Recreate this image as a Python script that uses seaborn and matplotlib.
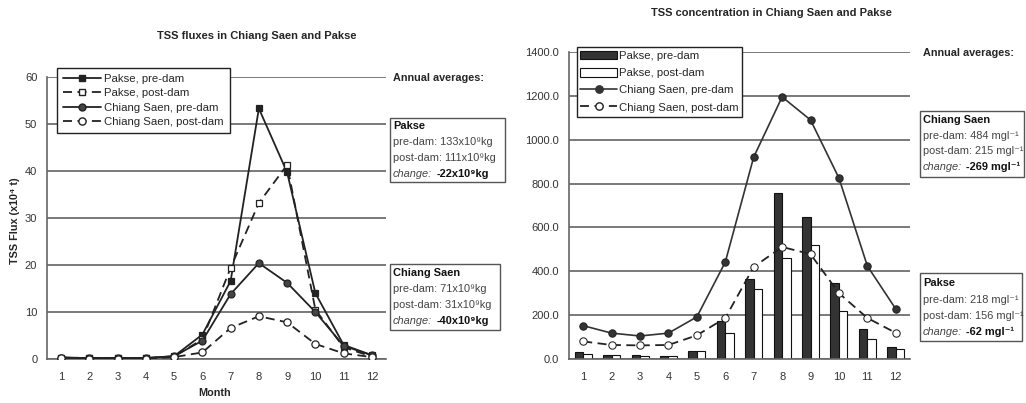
import matplotlib
matplotlib.use("Agg")
from matplotlib import pyplot as plt
from matplotlib.lines import Line2D
from matplotlib.patches import Patch, Rectangle
import pandas as pd
import seaborn as sns

MONTHS = list(range(1, 13))

# TSS flux (x10^4 t)
PAKSE_PRE_FLUX = [0.3, 0.2, 0.2, 0.2, 0.6, 5.2, 16.6, 53.3, 39.7, 14.0, 3.0, 0.8]
PAKSE_POST_FLUX = [0.3, 0.2, 0.2, 0.2, 0.5, 4.2, 19.4, 33.2, 41.3, 10.5, 2.5, 0.5]
CS_PRE_FLUX = [0.3, 0.2, 0.2, 0.2, 0.6, 3.9, 13.8, 20.4, 16.2, 10.0, 2.8, 0.8]
CS_POST_FLUX = [0.2, 0.1, 0.1, 0.1, 0.4, 1.4, 6.6, 9.1, 7.8, 3.2, 1.2, 0.4]

# TSS concentration (mg/l)
PAKSE_PRE_CONC = [32, 20, 18, 15, 38, 173, 365, 757, 648, 346, 137, 55]
PAKSE_POST_CONC = [22, 16, 12, 14, 36, 118, 319, 460, 520, 219, 91, 46]
CS_PRE_CONC = [152, 118, 105, 118, 192, 442, 921, 1195, 1090, 825, 424, 228]
CS_POST_CONC = [80, 64, 62, 64, 108, 187, 420, 511, 478, 300, 187, 119]

FLUX_LABELS = ["Pakse, pre-dam", "Pakse, post-dam",
               "Chiang Saen, pre-dam", "Chiang Saen, post-dam"]

W, H = 1026, 403
INK = "#222222"
DASH = (0, (5, 3))
BOX_FS = 7.95


def px(x, y):
    """pixel position -> figure fraction"""
    return x / W, 1 - y / H


def info_box(fig, x0, y0, x1, y1, title, lines, change, rows):
    """framed text box with the annual averages"""
    l, t = px(x0, y0)
    r, b = px(x1, y1)
    fig.add_artist(Rectangle((l, b), r - l, t - b, transform=fig.transFigure,
                             facecolor="white", edgecolor="#555555", lw=1.0))
    tx = x0 + 3
    fig.text(*px(tx, rows[0]), title, fontsize=BOX_FS, fontweight="bold",
             va="center", color="#111111")
    for txt, y in zip(lines, rows[1:3]):
        fig.text(*px(tx, y), txt, fontsize=BOX_FS, va="center",
                 color="#444444")
    t_ch = fig.text(*px(tx, rows[3]), "change:", fontsize=BOX_FS,
                    style="italic", va="center", color="#444444")
    fig.add_artist(plt.Annotation(change, xy=(1, 0.5), xycoords=t_ch,
                                  xytext=(3, 0), textcoords="offset points",
                                  va="center", ha="left", fontsize=BOX_FS,
                                  fontweight="bold", color="#111111"))


def style_axes(ax, ymax, ystep, fmt, tick_dir):
    ax.set_xlim(0.5, 12.5)
    ax.set_ylim(0, ymax)
    ax.set_yticks(range(0, ymax + 1, ystep))
    ax.set_yticklabels([fmt.format(v) for v in range(0, ymax + 1, ystep)])
    ax.set_xticks(MONTHS)
    ax.set_xticks([m + 0.5 for m in range(0, 13)], minor=True)
    ax.tick_params(axis="x", which="major", length=0, pad=9, labelsize=8,
                   labelcolor="#333333")
    ax.tick_params(axis="x", which="minor", length=5, direction=tick_dir,
                   color="#555555", width=1.0)
    ax.tick_params(axis="y", length=4, direction="out", color="#555555",
                   width=1.0, labelsize=8, labelcolor="#333333", pad=3)
    ax.yaxis.grid(True, color="#555555", lw=1.1)
    ax.set_axisbelow(True)
    sns.despine(ax=ax)
    for sp in ("left", "bottom"):
        ax.spines[sp].set_color("#666666")
        ax.spines[sp].set_linewidth(1.2)
    ax.set_xlabel("")
    ax.set_ylabel("")


sns.set_style("white")
plt.rcParams["font.family"] = ["Liberation Sans", "DejaVu Sans"]

fig = plt.figure(figsize=(W / 100, H / 100), dpi=100)
ax1 = fig.add_axes([47 / W, 44 / H, 339 / W, 282 / H])
ax2 = fig.add_axes([569 / W, 44 / H, 341 / W, 307 / H])

# ---- left: fluxes
series = [
    (PAKSE_PRE_FLUX, "s", INK, "-", 5),
    (PAKSE_POST_FLUX, "s", "white", DASH, 5),
    (CS_PRE_FLUX, "o", "#444444", "-", 5),
    (CS_POST_FLUX, "o", "white", DASH, 5.2),
]
handles = []
for (vals, mk, fc, ls, ms), lab in zip(series, FLUX_LABELS):
    sns.lineplot(x=MONTHS, y=vals, ax=ax1, color=INK, marker=mk,
                 markerfacecolor=fc, markeredgecolor=INK, markersize=ms,
                 markeredgewidth=0.9, linestyle=ls, lw=1.3, zorder=3)
    handles.append(Line2D([], [], color=INK, marker=mk, markerfacecolor=fc,
                          markeredgecolor=INK, markersize=ms, linestyle=ls,
                          lw=1.3))
style_axes(ax1, 60, 10, "{}", "out")
leg1 = ax1.legend(handles, FLUX_LABELS, loc="upper left",
                  bbox_to_anchor=(0.03, 1.033), fontsize=8.2, frameon=True,
                  fancybox=False, edgecolor="#222222", framealpha=1,
                  handlelength=3.3, handletextpad=0.25, labelspacing=0.38,
                  borderpad=0.55, borderaxespad=0)
leg1.get_frame().set_linewidth(1.0)
fig.text(*px(257, 36), "TSS fluxes in Chiang Saen and Pakse", fontsize=8,
         fontweight="bold", ha="center", va="center")
ax1.set_xlabel("Month", fontsize=7.8, fontweight="bold")
ax1.xaxis.set_label_coords((215 - 47) / 339, (359 - 388) / 282)
ax1.set_ylabel("TSS Flux (x10\u2074 t)", fontsize=7.8, fontweight="bold")
ax1.yaxis.set_label_coords(-(47 - 20) / 339, 0.49)

# ---- right: concentrations
bars = pd.DataFrame({
    "month": MONTHS * 2,
    "conc": PAKSE_PRE_CONC + PAKSE_POST_CONC,
    "period": ["pre"] * 12 + ["post"] * 12,
})
sns.barplot(data=bars, x="month", y="conc", hue="period", native_scale=True,
            palette={"pre": "#333333", "post": "white"}, edgecolor="#111111",
            linewidth=0.8, width=0.6, gap=0, legend=False, ax=ax2,
            errorbar=None, zorder=2)
sns.lineplot(x=MONTHS, y=CS_PRE_CONC, ax=ax2, color="#333333", marker="o",
             markerfacecolor="#333333", markeredgecolor="#222222",
             markersize=5.3, lw=1.2, zorder=4)
sns.lineplot(x=MONTHS, y=CS_POST_CONC, ax=ax2, color=INK, marker="o",
             markerfacecolor="white", markeredgecolor="#222222",
             markersize=5.3, linestyle=DASH, lw=1.3, zorder=4)
style_axes(ax2, 1400, 200, "{:.1f}", "inout")
h2 = [Patch(facecolor="#333333", edgecolor="#111111", lw=0.8),
      Patch(facecolor="white", edgecolor="#111111", lw=0.8),
      Line2D([], [], color="#333333", marker="o", markersize=5.3, lw=1.2),
      Line2D([], [], color=INK, marker="o", markerfacecolor="white",
             markersize=5.3, linestyle=DASH, lw=1.3)]
leg2 = ax2.legend(h2, FLUX_LABELS, loc="upper left",
                  bbox_to_anchor=(0.022, 1.017), fontsize=8.2, frameon=True,
                  fancybox=False, edgecolor="#222222", framealpha=1,
                  handlelength=3.2, handleheight=0.8, handletextpad=0.15,
                  labelspacing=0.6, borderpad=0.35, borderaxespad=0)
leg2.get_frame().set_linewidth(1.0)
fig.text(*px(771, 13), "TSS concentration in Chiang Saen and Pakse",
         fontsize=8, fontweight="bold", ha="center", va="center")

# ---- annual average boxes
fig.text(*px(393, 78), "Annual averages:", fontsize=7.8, fontweight="bold",
         va="center")
info_box(fig, 390, 118, 505, 182, "Pakse",
         ["pre-dam: 133x10\u2079kg", "post-dam: 111x10\u2079kg"],
         "-22x10\u2079kg", [126, 142, 158, 174])
info_box(fig, 390, 264, 500, 330, "Chiang Saen",
         ["pre-dam: 71x10\u2079kg", "post-dam: 31x10\u2079kg"],
         "-40x10\u2079kg", [273, 289, 305, 321])

fig.text(*px(923, 53), "Annual averages:", fontsize=7.8, fontweight="bold",
         va="center")
info_box(fig, 920, 111, 1024, 177, "Chiang Saen",
         ["pre-dam: 484 mgl\u207b\u00b9", "post-dam: 215 mgl\u207b\u00b9"],
         "-269 mgl\u207b\u00b9", [120, 136, 151, 167])
info_box(fig, 920, 273, 1022, 341, "Pakse",
         ["pre-dam: 218 mgl\u207b\u00b9", "post-dam: 156 mgl\u207b\u00b9"],
         "-62 mgl\u207b\u00b9", [283, 300, 316, 332])

fig.savefig("out.png", dpi=100)
